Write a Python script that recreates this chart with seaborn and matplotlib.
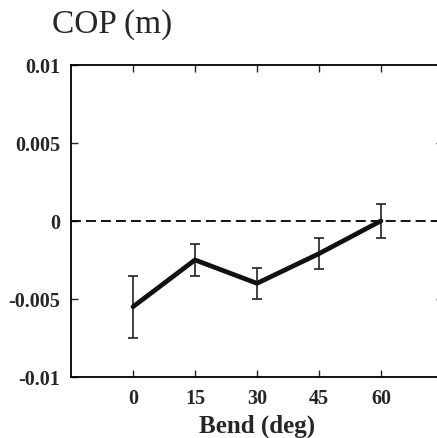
import numpy as np
import pandas as pd
import matplotlib
matplotlib.use("Agg")
import matplotlib.pyplot as plt
import seaborn as sns

# data
bend_deg = [0, 15, 30, 45, 60]
cop_mean = [-0.0055, -0.0025, -0.0040, -0.0021, 0.0000]
cop_err = [0.0020, 0.0010, 0.0010, 0.0010, 0.0011]

y_ticks = [-0.01, -0.005, 0, 0.005, 0.01]
y_tick_labels = ["-0.01", "-0.005", "0", "0.005", "0.01"]

sns.set_style("ticks")
plt.rcParams['font.family'] = ['Liberation Serif', 'DejaVu Serif']

df = pd.DataFrame({"bend": bend_deg, "cop": cop_mean})

fig = plt.figure(figsize=(4.37, 4.39), dpi=100)
ax = fig.add_axes([0.1625, 0.139, 0.851, 0.711])

ax.axhline(0, color="black", lw=1.3, ls=(0, (5.5, 2.8)), zorder=1)
ax.errorbar(bend_deg, cop_mean, yerr=cop_err, fmt="none", ecolor="#222222",
            elinewidth=1.2, capsize=3.5, capthick=1.2, zorder=2)
sns.lineplot(data=df, x="bend", y="cop", color="#111111", lw=3.4, ax=ax, zorder=3)

ax.set_xlim(-15, 75)
ax.set_ylim(-0.01, 0.01)
ax.set_xticks(bend_deg)
ax.set_xticklabels([str(b) for b in bend_deg])
ax.set_yticks(y_ticks)
ax.set_yticklabels(y_tick_labels)

for side in ["left", "right", "top", "bottom"]:
    ax.spines[side].set_visible(True)
    ax.spines[side].set_linewidth(1.3)
    ax.spines[side].set_color("black")

ax.tick_params(direction="in", length=5, width=1, top=True, right=True,
               labelsize=14.5, pad=8)
for lab in ax.get_xticklabels() + ax.get_yticklabels():
    lab.set_fontweight("bold")

ax.set_xlabel("Bend (deg)", fontsize=18, fontweight="bold", labelpad=4)
ax.set_ylabel("")

fig.text(52 / 437, 1 - 33 / 439, "COP (m)", fontsize=24, fontweight="normal",
         ha="left", va="baseline")

fig.savefig("out.png", dpi=100)
